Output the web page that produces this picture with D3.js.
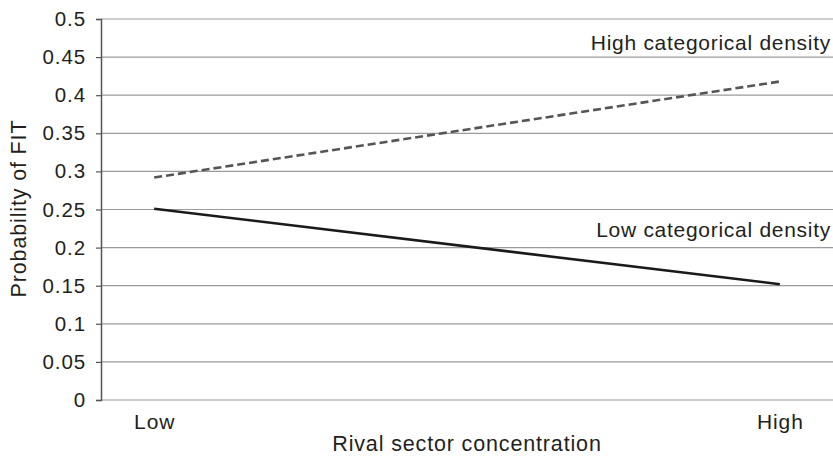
<!DOCTYPE html>
<html><head><meta charset="utf-8">
<script src="https://cdn.jsdelivr.net/npm/d3@7/dist/d3.min.js"></script>
<style>body{margin:0;background:#fff}svg{display:block}text{font-family:"Liberation Sans",Arial,sans-serif;fill:#231f20}</style>
</head><body><svg id="c" width="833" height="456"></svg>
<script>
const categories = ["Low", "High"];
const highDensity = [0.292, 0.418];
const lowDensity = [0.251, 0.152];
const seriesNames = ["High categorical density", "Low categorical density"];
const yTicks = [0, 0.05, 0.1, 0.15, 0.2, 0.25, 0.3, 0.35, 0.4, 0.45, 0.5];
const yTickLabels = ["0", "0.05", "0.1", "0.15", "0.2", "0.25", "0.3", "0.35", "0.4", "0.45", "0.5"];
const xTitle = "Rival sector concentration";
const yTitle = "Probability of FIT";

(function () {
const svg = d3.select("#c");
const mLeft = 101, mRight = 833, mTop = 19, mBottom = 400;
const x = d3.scalePoint().domain(categories).range([mLeft, mRight]).padding(0.085);
const y = d3.scaleLinear().domain([0, 0.5]).range([mBottom, mTop]);

// gridlines
svg.append("g").selectAll("line").data(yTicks).join("line")
  .attr("x1", mLeft).attr("x2", mRight)
  .attr("y1", d => y(d)).attr("y2", d => y(d))
  .attr("stroke", "#9b9b9b").attr("stroke-width", 1.2);

// y axis
const yAxis = d3.axisLeft(y).tickValues(yTicks).tickSize(5).tickPadding(10)
  .tickFormat((d, i) => yTickLabels[i]);
const gy = svg.append("g").attr("transform", `translate(${mLeft},0)`).call(yAxis);
gy.select(".domain").attr("stroke", "#555").attr("stroke-width", 1.5);
gy.selectAll(".tick line").attr("stroke", "#555").attr("stroke-width", 1.2);
gy.selectAll(".tick text").attr("font-size", 20.5).attr("fill", "#231f20")
  .attr("letter-spacing", "0.9px")
  .attr("font-family", "Liberation Sans, Arial, sans-serif");

// x axis labels
const xAxis = d3.axisBottom(x).tickSize(0).tickPadding(14);
const gx = svg.append("g").attr("transform", `translate(0,${mBottom})`).call(xAxis);
gx.select(".domain").remove();
gx.selectAll(".tick text").attr("font-size", 21).attr("fill", "#231f20")
  .attr("letter-spacing", "0.9px")
  .attr("font-family", "Liberation Sans, Arial, sans-serif");

const line = d3.line().x((d, i) => x(categories[i])).y(d => y(d));

svg.append("path").datum(highDensity).attr("d", line)
  .attr("fill", "none").attr("stroke", "#555").attr("stroke-width", 2.6)
  .attr("stroke-dasharray", "8,4");
svg.append("path").datum(lowDensity).attr("d", line)
  .attr("fill", "none").attr("stroke", "#1a1a1a").attr("stroke-width", 2.6);

// annotations
svg.append("text").attr("x", 831).attr("y", 50).attr("text-anchor", "end")
  .attr("font-size", 21).attr("letter-spacing", "0.72px").text(seriesNames[0]);
svg.append("text").attr("x", 831).attr("y", 236.5).attr("text-anchor", "end")
  .attr("font-size", 21).attr("letter-spacing", "0.72px").text(seriesNames[1]);

// titles
svg.append("text").attr("x", (mLeft + mRight) / 2).attr("y", 451).attr("text-anchor", "middle")
  .attr("font-size", 21.5).attr("letter-spacing", "0.85px").text(xTitle);
svg.append("text").attr("transform", `translate(26,${(122 + 295) / 2}) rotate(-90)`)
  .attr("text-anchor", "middle").attr("font-size", 21.5).attr("letter-spacing", "0.85px").text(yTitle);
})();
</script></body></html>
